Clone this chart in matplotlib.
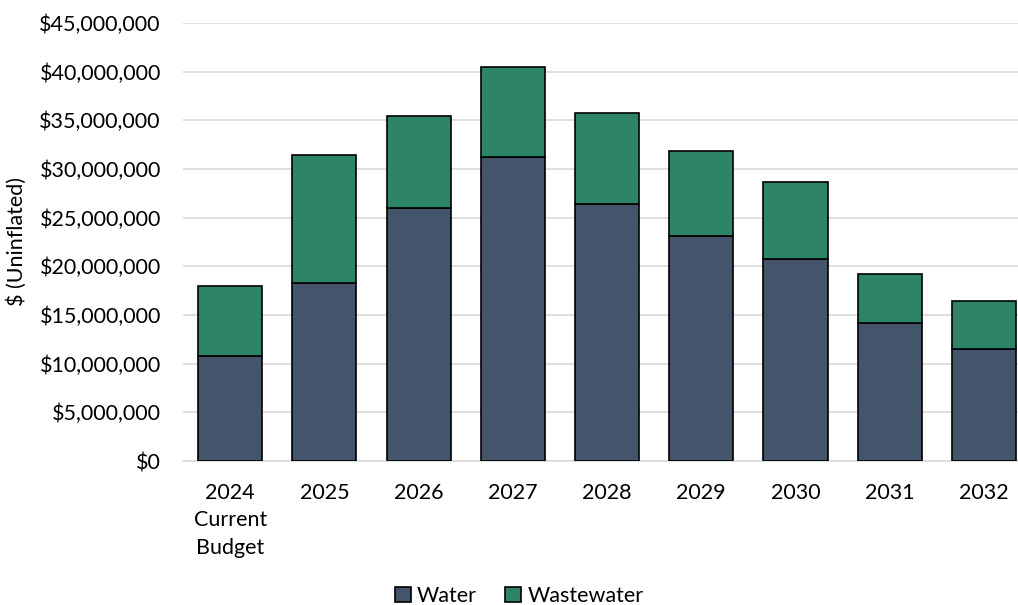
import matplotlib
matplotlib.use("Agg")
import matplotlib.pyplot as plt
from matplotlib.ticker import FuncFormatter

categories = ["2024\nCurrent\nBudget", "2025", "2026", "2027", "2028", "2029", "2030", "2031", "2032"]
water = [10.79e6, 18.29e6, 25.99e6, 31.23e6, 26.40e6, 23.12e6, 20.75e6, 14.18e6, 11.51e6]
wastewater = [7.19e6, 13.15e6, 9.46e6, 9.25e6, 9.35e6, 8.73e6, 7.91e6, 5.03e6, 4.93e6]

plt.rcParams['font.family'] = ['Lato', 'DejaVu Sans']

fig = plt.figure(figsize=(10.18, 6.05), dpi=100)
ax = fig.add_axes([0.1798, 0.238, 0.833, 0.724])

x = list(range(len(categories)))
ax.bar(x, water, width=0.68, color="#44546A", edgecolor="black", linewidth=1.2, label="Water", zorder=3)
ax.bar(x, wastewater, width=0.68, bottom=water, color="#2E8468", edgecolor="black", linewidth=1.2,
       label="Wastewater", zorder=3)

ax.set_xlim(-0.5, len(categories) - 0.5)
ax.set_ylim(0, 45e6)
ax.set_yticks([i * 5e6 for i in range(10)])
ax.yaxis.set_major_formatter(FuncFormatter(lambda v, p: f"${v:,.0f}"))
ax.set_xticks(x)
ax.set_xticklabels(categories, linespacing=1.45)
ax.grid(axis="y", color="#D9D9D9", linewidth=1.2, zorder=0)
for s in ["top", "right", "left"]:
    ax.spines[s].set_visible(False)
ax.spines["bottom"].set_color("#D9D9D9")
ax.spines["bottom"].set_linewidth(1.2)
ax.tick_params(axis="both", length=0, labelsize=15.5, colors="black")
ax.tick_params(axis="y", pad=16)
ax.tick_params(axis="x", pad=16)
ax.set_ylabel("$ (Uninflated)", fontsize=15.5)
ax.yaxis.set_label_coords(-0.184, 0.5)

fig.legend(loc="center", bbox_to_anchor=(0.51, 0.015), ncol=2, frameon=False, fontsize=15.5,
           handlelength=0.75, handleheight=0.75, handletextpad=0.3, columnspacing=1.3)

fig.savefig("out.png", dpi=100)
